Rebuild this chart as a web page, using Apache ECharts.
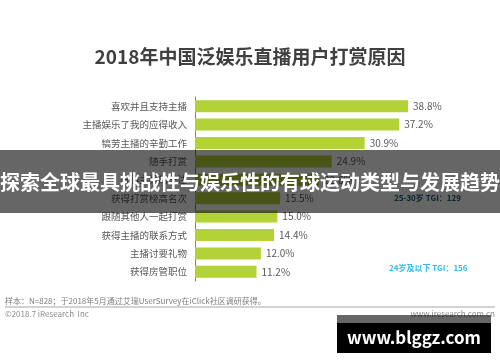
<!DOCTYPE html>
<html>
<head>
<meta charset="utf-8">
<script src="https://cdn.jsdelivr.net/npm/echarts@6/dist/echarts.min.js"></script>
<style>
html,body{margin:0;padding:0;background:#fff;}
#chart{width:500px;height:362px;}
</style>
</head>
<body>
<div id="chart"></div>
<script>
const categories = ['喜欢并且支持主播','主播娱乐了我的应得收入','犒劳主播的辛勤工作','随手打赏','获得主播的关注','获得打赏榜高名次','跟随其他人一起打赏','获得主播的联系方式','主播讨要礼物','获得房管职位'];
const values = [38.8, 37.2, 30.9, 24.9, 22.6, 15.5, 15.0, 14.4, 12.0, 11.2];
const titleText = '2018年中国泛娱乐直播用户打赏原因';
const bannerText = '探索全球最具挑战性与娱乐性的有球运动类型与发展趋势';
const noteText = '样本：N=828；于2018年5月通过艾瑞UserSurvey在iClick社区调研获得。';
const copyText = '©2018.7 iResearch  Inc';
const siteText = 'www.iresearch.com.cn';
const tgiA = '25-30岁 TGI：129';
const tgiB = '24岁及以下 TGI：156';
const watermark = 'www.blggz.com';

const font = '"Noto Sans CJK SC","Noto Sans",sans-serif';
const chart = echarts.init(document.getElementById('chart'), null, {renderer:'canvas'});
chart.setOption({
  backgroundColor:'#ffffff',
  animation:false,
  title:{text:titleText,left:'center',top:42,textStyle:{fontSize:19,fontWeight:'bold',color:'#404040',fontFamily:font}},
  grid:{left:195,top:97,width:274.5,height:184,containLabel:false},
  xAxis:{type:'value',min:0,max:50,show:false},
  yAxis:{type:'category',data:categories,inverse:true,
    axisLine:{show:true,lineStyle:{color:'#808080',width:1}},
    axisTick:{show:false},
    axisLabel:{fontSize:9.5,color:'#595959',margin:8,fontFamily:font}},
  series:[{type:'bar',data:values,barWidth:12,itemStyle:{color:'#b2d235'},z:2,
    label:{show:true,position:'right',distance:5,formatter:p=>p.value.toFixed(1)+'%',fontSize:10,color:'#595959',fontFamily:font}}],
  graphic:[
    {type:'text',left:389,top:264,style:{text:tgiB,fill:'#2cc0f0',font:'bold 8px '+font}},
    {type:'text',left:394,top:194,style:{text:tgiA,fill:'#155a70',font:'bold 8px '+font}},
    {type:'text',left:5,top:297,style:{text:noteText,fill:'#7f7f7f',font:'8px '+font}},
    {type:'line',shape:{x1:5,y1:307,x2:495,y2:307},style:{stroke:'#a6a6a6',lineWidth:1}},
    {type:'text',left:5,top:310,style:{text:copyText,fill:'#8c8c8c',font:'8px '+font}},
    {type:'text',right:5,top:310,style:{text:siteText,fill:'#8c8c8c',font:'8px '+font}},
    {type:'rect',shape:{x:0,y:150,width:500,height:63},style:{fill:'rgba(0,0,0,0.6)'},z:100},
    {type:'text',x:250,y:182,style:{text:bannerText,fill:'#ffffff',font:'bold 20px '+font,align:'center',verticalAlign:'middle'},z:101},
    {type:'rect',shape:{x:337,y:315,width:154,height:8},style:{fill:'rgba(0,0,0,0.6)'},z:100},
    {type:'rect',shape:{x:337,y:323,width:154,height:30},style:{fill:'#000000'},z:100},
    {type:'text',x:414,y:338,style:{text:watermark,fill:'#ffffff',font:'bold 17px '+font,align:'center',verticalAlign:'middle'},z:101}
  ]
});
</script>
</body>
</html>
